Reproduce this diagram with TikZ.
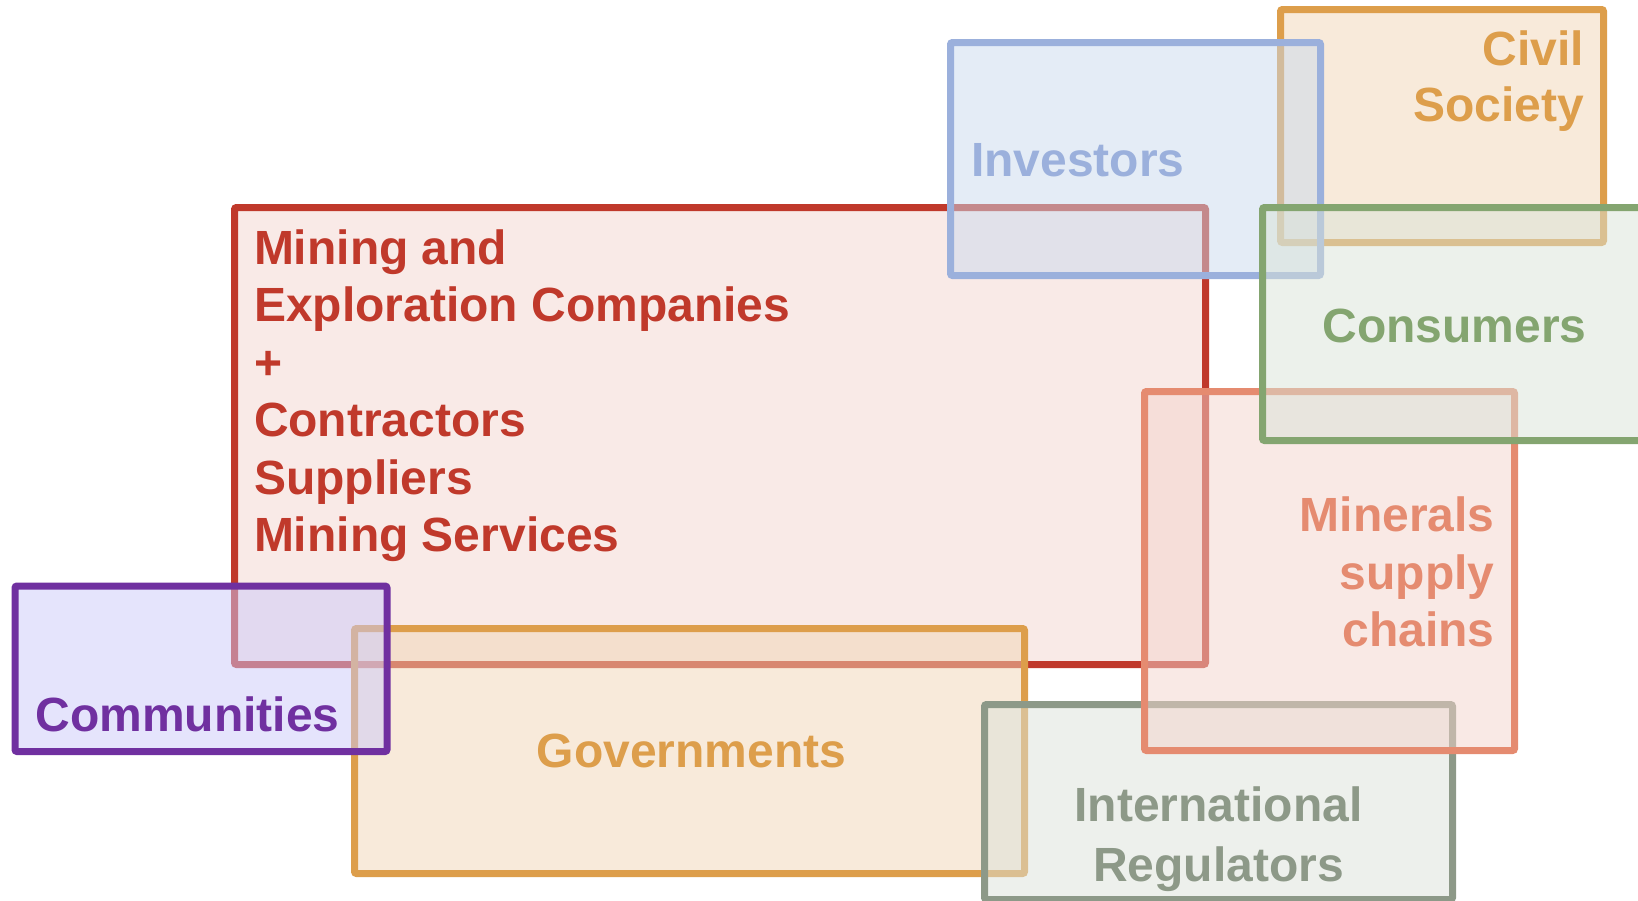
\documentclass[tikz,border=0pt]{standalone}
\usepackage{fontspec}
\setmainfont{Liberation Sans}
\definecolor{redS}{RGB}{192,57,43}
\definecolor{redF}{RGB}{243,213,207}
\definecolor{invS}{RGB}{155,176,220}
\definecolor{invF}{RGB}{201,217,237}
\definecolor{orgS}{RGB}{221,158,75}
\definecolor{orgF}{RGB}{241,213,181}
\definecolor{conS}{RGB}{132,165,112}
\definecolor{conF}{RGB}{217,227,215}
\definecolor{minS}{RGB}{229,139,112}
\definecolor{minF}{RGB}{243,211,203}
\definecolor{irS}{RGB}{141,153,136}
\definecolor{irF}{RGB}{219,225,217}
\definecolor{comS}{RGB}{112,48,160}
\definecolor{comF}{RGB}{203,201,249}
\begin{document}
\begin{tikzpicture}[x=0.5pt,y=-0.5pt,
  box/.style={line width=3.5pt, rounded corners=1pt, fill opacity=0.5},
  lbl/.style={inner sep=0pt, outer sep=0pt, font=\fontsize{24}{28.75}\selectfont\bfseries}]
\useasboundingbox (0,0) rectangle (1638,900);
\clip (0,0) rectangle (1638,900);
% Mining companies (red)
\draw[box, draw=redS, fill=redF] (234.5,207.5) rectangle (1205.5,664.5);
\node[lbl, text=redS, anchor=base west, align=left] (mining) at (254,551.7)
  {Mining and\\Exploration Companies\\+\\Contractors\\Suppliers\\Mining Services};
% Civil Society
\draw[box, draw=orgS, fill=orgF] (1280.5,9.5) rectangle (1603.5,242.5);
\node[lbl, text=orgS, anchor=base east, align=right,
  font=\fontsize{24}{28}\selectfont\bfseries] (civil) at (1584,121.7)
  {Civil\\Society};
% Investors
\draw[box, draw=invS, fill=invF] (950.5,42.5) rectangle (1320.5,275.5);
\node[lbl, text=invS, anchor=base west] (investors) at (971,176) {Investors};
% Governments
\draw[box, draw=orgS, fill=orgF] (354.5,628.5) rectangle (1024.5,873.5);
\node[lbl, text=orgS, anchor=base west] (gov) at (536.7,767.7) {Governments};
% Communities
\draw[box, draw=comS, fill=comF] (15,586) rectangle (387,751.5);
\node[lbl, text=comS, anchor=base west] (comm) at (35.5,731) {Communities};
% International Regulators
\draw[box, draw=irS, fill=irF] (984.5,704.5) rectangle (1452.5,899.5);
\node[lbl, text=irS, anchor=base, align=center,
  font=\fontsize{24}{30}\selectfont\bfseries] (ir) at (1218.5,881.7)
  {International\\Regulators};
% Minerals supply chains
\draw[box, draw=minS, fill=minF] (1144.5,391.5) rectangle (1514.5,750.5);
\node[lbl, text=minS, anchor=base east, align=right] (minerals) at (1494.5,646.7)
  {Minerals\\supply\\chains};
% Consumers
\draw[box, draw=conS, fill=conF] (1262.5,207.5) rectangle (1660,440.5);
\node[lbl, text=conS, anchor=base west] (consumers) at (1322.5,342.3) {Consumers};
\end{tikzpicture}
\end{document}
